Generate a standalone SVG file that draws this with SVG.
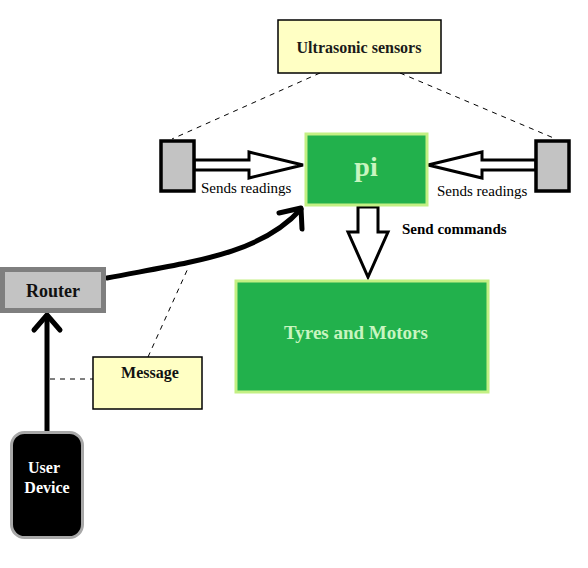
<svg xmlns="http://www.w3.org/2000/svg" width="588" height="568" viewBox="0 0 588 568">
<style>
.t{font-family:"Liberation Serif","Times New Roman",serif;}
.b{font-weight:bold;}
.dash{stroke:#000;stroke-width:1;stroke-dasharray:5,5;fill:none;}
.note{fill:#ffffc4;stroke:#000;stroke-width:1.5;}
.green{fill:#22b14c;stroke:#c4f084;stroke-width:3;}
.sensor{fill:#c3c3c3;stroke:#000;stroke-width:3.5;}
.hollow{fill:#fff;stroke:#000;stroke-width:3;stroke-linejoin:miter;}
.thick{fill:none;stroke:#000;stroke-width:5;stroke-linecap:round;stroke-linejoin:round;}
</style>
<rect width="588" height="568" fill="#fff"/>
<g id="connectors">
  <line class="dash" x1="320" y1="73" x2="172" y2="139"/>
  <line class="dash" x1="400" y1="73" x2="556" y2="139"/>
  <line class="dash" x1="148" y1="357" x2="189" y2="266"/>
  <line class="dash" x1="50" y1="379" x2="93" y2="379"/>
  <path class="hollow" d="M194,160 L249,160 L249,152 L303,165 L249,178 L249,170 L194,170 Z"/>
  <path class="hollow" d="M536,160 L482,160 L482,152 L428,165 L482,178 L482,170 L536,170 Z"/>
  <path class="hollow" d="M358,207 L378,207 L378,232 L388,232 L368,277 L348,232 L358,232 Z"/>
  <path class="thick" d="M107,278 C190,262 260,255 301,209"/>
  <path class="thick" d="M279,213 L301,208 L302,229"/>
  <line class="thick" x1="47" y1="432" x2="47" y2="316"/>
  <path class="thick" d="M34,330 L47,315 L60,330"/>
  <text class="t" x="201" y="193" font-size="15">Sends readings</text>
  <text class="t" x="437" y="196" font-size="15">Sends readings</text>
  <text class="t b" x="402" y="234" font-size="15">Send commands</text>
</g>
<g id="ultrasonic">
  <rect class="note" x="278" y="20" width="163" height="53"/>
  <text class="t b" x="359" y="53" font-size="16" text-anchor="middle" fill="#1a1a1a">Ultrasonic sensors</text>
</g>
<g id="sensor-left"><rect class="sensor" x="161" y="141" width="33" height="50"/></g>
<g id="sensor-right"><rect class="sensor" x="536" y="141" width="33" height="50"/></g>
<g id="pi">
  <rect class="green" x="306" y="134" width="121" height="71"/>
  <text class="t b" x="366" y="176" font-size="28" text-anchor="middle" fill="#c8f5c0">pi</text>
</g>
<g id="tyres">
  <rect class="green" x="236" y="281" width="252" height="111"/>
  <text class="t b" x="356" y="339" font-size="19" text-anchor="middle" fill="#c8f5c0">Tyres and Motors</text>
</g>
<g id="router">
  <rect x="2.5" y="269.5" width="101" height="41" fill="#c3c3c3" stroke="#7f7f7f" stroke-width="5"/>
  <text class="t b" x="53" y="297" font-size="18" text-anchor="middle" fill="#111">Router</text>
</g>
<g id="message">
  <rect class="note" x="93" y="357" width="109" height="52"/>
  <text class="t b" x="150" y="378" font-size="16" text-anchor="middle" fill="#111">Message</text>
</g>
<g id="user-device">
  <rect x="11.5" y="432.5" width="71" height="105" rx="13" fill="#000" stroke="#a8a8a8" stroke-width="3"/>
  <text class="t b" x="44" y="473" font-size="16" text-anchor="middle" fill="#fff">User</text>
  <text class="t b" x="47" y="493" font-size="16" text-anchor="middle" fill="#fff">Device</text>
</g>
</svg>
